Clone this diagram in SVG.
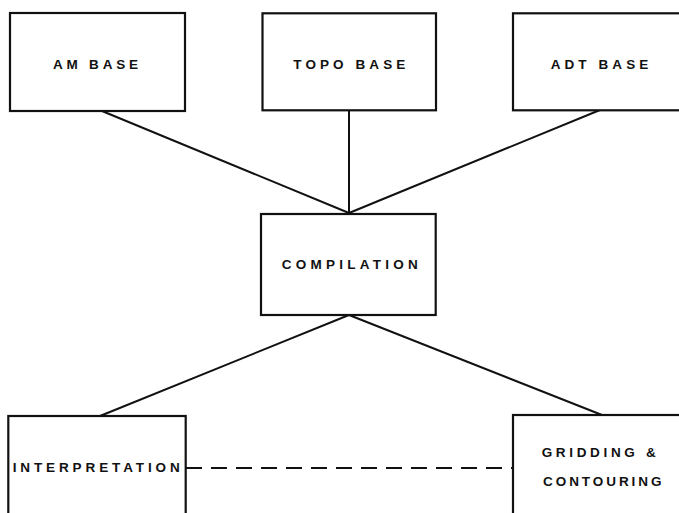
<svg xmlns="http://www.w3.org/2000/svg" width="679" height="513" viewBox="0 0 679 513">
<style>
.box{fill:#fff;stroke:#111;stroke-width:2.2}
.lbl{font-family:"Liberation Sans",Arial,sans-serif;font-weight:bold;font-size:13.5px;fill:#111}
.ln{stroke:#111;stroke-width:2;fill:none}
.dash{stroke:#111;stroke-width:2;fill:none;stroke-dasharray:16 9}
</style>
<rect width="679" height="513" fill="#fff"/>
<g id="connectors">
<line class="ln" x1="102" y1="111" x2="349" y2="213"/>
<line class="ln" x1="349" y1="110" x2="349" y2="213"/>
<line class="ln" x1="600" y1="110" x2="349" y2="213"/>
<line class="ln" x1="349" y1="315" x2="100" y2="416"/>
<line class="ln" x1="349" y1="315" x2="602" y2="415"/>
<line class="dash" x1="186" y1="468" x2="513" y2="468"/>
</g>
<g id="am-base">
<rect class="box" x="10" y="13" width="175" height="98"/>
<text class="lbl" x="53" y="68.5" textLength="85" lengthAdjust="spacing">AM BASE</text>
</g>
<g id="topo-base">
<rect class="box" x="262.5" y="13.3" width="173.5" height="97"/>
<text class="lbl" x="293.3" y="68.5" textLength="112" lengthAdjust="spacing">TOPO BASE</text>
</g>
<g id="adt-base">
<rect class="box" x="513" y="13.3" width="180" height="97"/>
<text class="lbl" x="550.7" y="68.5" textLength="97.6" lengthAdjust="spacing">ADT BASE</text>
</g>
<g id="compilation">
<rect class="box" x="261" y="214" width="174.7" height="101"/>
<text class="lbl" x="281.7" y="269.2" textLength="136" lengthAdjust="spacing">COMPILATION</text>
</g>
<g id="interpretation">
<rect class="box" x="8.3" y="416" width="177.4" height="110"/>
<text class="lbl" x="12.7" y="471.8" textLength="167" lengthAdjust="spacing">INTERPRETATION</text>
</g>
<g id="gridding">
<rect class="box" x="513" y="415" width="180" height="110"/>
<text class="lbl" x="541.7" y="456.8" textLength="114" lengthAdjust="spacing">GRIDDING &amp;</text>
<text class="lbl" x="543" y="486.2" textLength="118.5" lengthAdjust="spacing">CONTOURING</text>
</g>
</svg>
